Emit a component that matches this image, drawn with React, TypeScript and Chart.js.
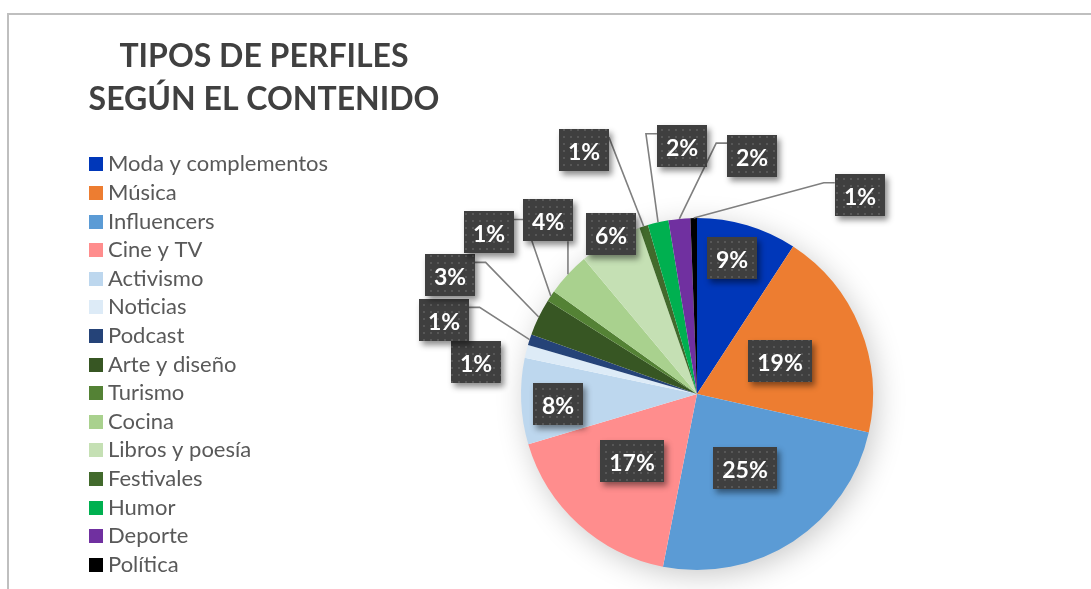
import { useEffect, useRef } from "react";
import { Chart, registerables } from "chart.js";

Chart.register(...registerables);

// ---------- data ----------
const categories: string[] = [
  "Moda y complementos",
  "Música",
  "Influencers",
  "Cine y TV",
  "Activismo",
  "Noticias",
  "Podcast",
  "Arte y diseño",
  "Turismo",
  "Cocina",
  "Libros y poesía",
  "Festivales",
  "Humor",
  "Deporte",
  "Política",
];

const shares: number[] = [9.2, 19.3, 24.6, 17.3, 7.9, 1.2, 1.0, 3.4, 1.0, 4.0, 5.8, 0.8, 1.9, 2.0, 0.6];

const sliceColors: string[] = [
  "#0037B9",
  "#ED7D31",
  "#5B9BD5",
  "#FF8D8D",
  "#BDD7EE",
  "#DDEBF7",
  "#254378",
  "#375623",
  "#548235",
  "#A9D18E",
  "#C5E0B4",
  "#426A2C",
  "#00B050",
  "#7030A0",
  "#000000",
];

const titleLines: string[] = ["TIPOS DE PERFILES", "SEGÚN EL CONTENIDO"];

// label placement relative to each slice's mid angle (degrees offset, radius factor)
type Place = { da: number; rf: number; leader?: "left" | "right" | "bottom"; elbow?: number };
const labelPlacement: Place[] = [
  { da: -2.2, rf: 0.8 },
  { da: 0.4, rf: 0.51 },
  { da: 0.1, rf: 0.5 },
  { da: 1.8, rf: 0.53 },
  { da: -1.8, rf: 0.79 },
  { da: -5.8, rf: 1.27 },
  { da: -1.7, rf: 1.5, leader: "right" },
  { da: -0.2, rf: 1.56, leader: "right" },
  { da: 4.0, rf: 1.5, leader: "right" },
  { da: 6.6, rf: 1.3, leader: "bottom" },
  { da: 1.2, rf: 1.03 },
  { da: -7.2, rf: 1.53, leader: "right", elbow: 0 },
  { da: 9.3, rf: 1.41, leader: "left" },
  { da: 18.8, rf: 1.39, leader: "left" },
  { da: 40.4, rf: 1.46, leader: "left" },
];

const FONT = "Lato, 'Open Sans', 'DejaVu Sans', sans-serif";

function makePattern(ctx: CanvasRenderingContext2D): CanvasPattern | string {
  const c = document.createElement("canvas");
  c.width = 7;
  c.height = 7;
  const p = c.getContext("2d");
  if (!p) return "#404040";
  p.fillStyle = "#3f3f3f";
  p.fillRect(0, 0, 7, 7);
  p.fillStyle = "#575757";
  p.fillRect(3, 3, 2, 2);
  return ctx.createPattern(c, "repeat") || "#404040";
}

export default function App() {
  const ref = useRef<HTMLCanvasElement>(null);

  useEffect(() => {
    const canvas = ref.current;
    if (!canvas) return;
    const total = shares.reduce((a, b) => a + b, 0);

    const decor = {
      id: "decor",
      beforeDatasetsDraw(chart: any) {
        const meta = chart.getDatasetMeta(0);
        const arc = meta.data[0];
        if (!arc) return;
        const { x, y, outerRadius } = arc.getProps(["x", "y", "outerRadius"], true);
        const ctx = chart.ctx as CanvasRenderingContext2D;
        ctx.save();
        ctx.shadowColor = "rgba(0,0,0,0.22)";
        ctx.shadowBlur = 30;
        ctx.shadowOffsetX = 4;
        ctx.shadowOffsetY = 6;
        ctx.fillStyle = "#ffffff";
        ctx.beginPath();
        ctx.arc(x, y, outerRadius - 1, 0, Math.PI * 2);
        ctx.fill();
        ctx.restore();
      },
      afterDatasetsDraw(chart: any) {
        const meta = chart.getDatasetMeta(0);
        const ctx = chart.ctx as CanvasRenderingContext2D;
        const pattern = makePattern(ctx);
        ctx.save();
        ctx.font = `bold 23px ${FONT}`;
        const boxes = meta.data.map((arc: any, i: number) => {
          const { x, y, startAngle, endAngle, outerRadius } = arc.getProps(
            ["x", "y", "startAngle", "endAngle", "outerRadius"],
            true
          );
          const P = labelPlacement[i];
          const mid = (startAngle + endAngle) / 2;
          const a = mid + (P.da * Math.PI) / 180;
          const cx = x + Math.cos(a) * P.rf * outerRadius;
          const cy = y + Math.sin(a) * P.rf * outerRadius;
          const text = Math.round((shares[i] / total) * 100) + "%";
          const w = Math.round(ctx.measureText(text).width + 18);
          const h = 42;
          const ax = x + Math.cos(mid) * outerRadius;
          const ay = y + Math.sin(mid) * outerRadius;
          return { cx, cy, w, h, text, ax, ay, P };
        });

        // leader lines
        ctx.strokeStyle = "#7f7f7f";
        ctx.lineWidth = 1.6;
        for (const b of boxes) {
          const lead = b.P.leader;
          if (!lead) continue;
          const top = b.cy - b.h / 2;
          const elbow = b.P.elbow ?? 11;
          ctx.beginPath();
          if (lead === "right") {
            const sx = b.cx + b.w / 2;
            const sy = top + 8.5;
            ctx.moveTo(sx, sy);
            ctx.lineTo(sx + elbow, sy);
            ctx.lineTo(b.ax, b.ay);
          } else if (lead === "left") {
            const sx = b.cx - b.w / 2;
            const sy = top + 8.5;
            ctx.moveTo(sx, sy);
            ctx.lineTo(sx - elbow, sy);
            ctx.lineTo(b.ax, b.ay);
          } else {
            ctx.moveTo(b.ax, b.cy + b.h / 2);
            ctx.lineTo(b.ax, b.ay);
          }
          ctx.stroke();
        }

        // label boxes
        for (const b of boxes) {
          const bx = Math.round(b.cx - b.w / 2);
          const by = Math.round(b.cy - b.h / 2);
          ctx.save();
          ctx.shadowColor = "rgba(0,0,0,0.45)";
          ctx.shadowBlur = 6;
          ctx.shadowOffsetX = 3;
          ctx.shadowOffsetY = 4;
          ctx.fillStyle = "#404040";
          ctx.fillRect(bx, by, b.w, b.h);
          ctx.restore();
          ctx.fillStyle = pattern as any;
          ctx.fillRect(bx, by, b.w, b.h);
          ctx.fillStyle = "#ffffff";
          ctx.textAlign = "center";
          ctx.textBaseline = "alphabetic";
          ctx.fillText(b.text, bx + b.w / 2, by + b.h / 2 + 10);
        }
        ctx.restore();
      },
      afterDraw(chart: any) {
        const ctx = chart.ctx as CanvasRenderingContext2D;
        ctx.save();
        // chart frame
        ctx.fillStyle = "#bfbfbf";
        ctx.fillRect(7, 13, 1091 - 7, 2);
        ctx.fillRect(7, 13, 2, 589 - 13);
        // title
        ctx.fillStyle = "#404040";
        ctx.font = `bold 32px ${FONT}`;
        ctx.textAlign = "center";
        ctx.textBaseline = "alphabetic";
        ctx.fillText(titleLines[0], 264, 67);
        ctx.fillText(titleLines[1], 264, 110);
        // legend (built from the chart's own labels and slice colours)
        const labels: string[] = chart.data.labels;
        const colors: string[] = chart.data.datasets[0].backgroundColor;
        ctx.font = `22px ${FONT}`;
        ctx.textAlign = "left";
        ctx.textBaseline = "middle";
        labels.forEach((lab, i) => {
          const yc = 164.3 + i * 28.6;
          ctx.fillStyle = colors[i];
          ctx.fillRect(89, Math.round(yc - 7), 14, 14);
          ctx.fillStyle = "#595959";
          ctx.fillText(lab, 108, yc);
        });
        ctx.restore();
      },
    };

    const chart = new Chart(canvas, {
      type: "pie",
      data: {
        labels: categories,
        datasets: [
          {
            data: shares,
            backgroundColor: sliceColors,
            borderWidth: 0,
            clip: false,
          } as any,
        ],
      },
      options: {
        responsive: false,
        animation: false,
        events: [],
        layout: {
          padding: { top: 218, bottom: 19, left: 521, right: 218 },
        },
        plugins: {
          title: { display: false },
          tooltip: { enabled: false },
          legend: { display: false },
        },
      },
      plugins: [decor],
    });

    return () => chart.destroy();
  }, []);

  return (
    <div style={{ position: "fixed", left: 0, top: 0, width: 1091, height: 589, background: "#ffffff" }}>
      <canvas ref={ref} width={1091} height={589} style={{ width: 1091, height: 589, display: "block" }} />
    </div>
  );
}
